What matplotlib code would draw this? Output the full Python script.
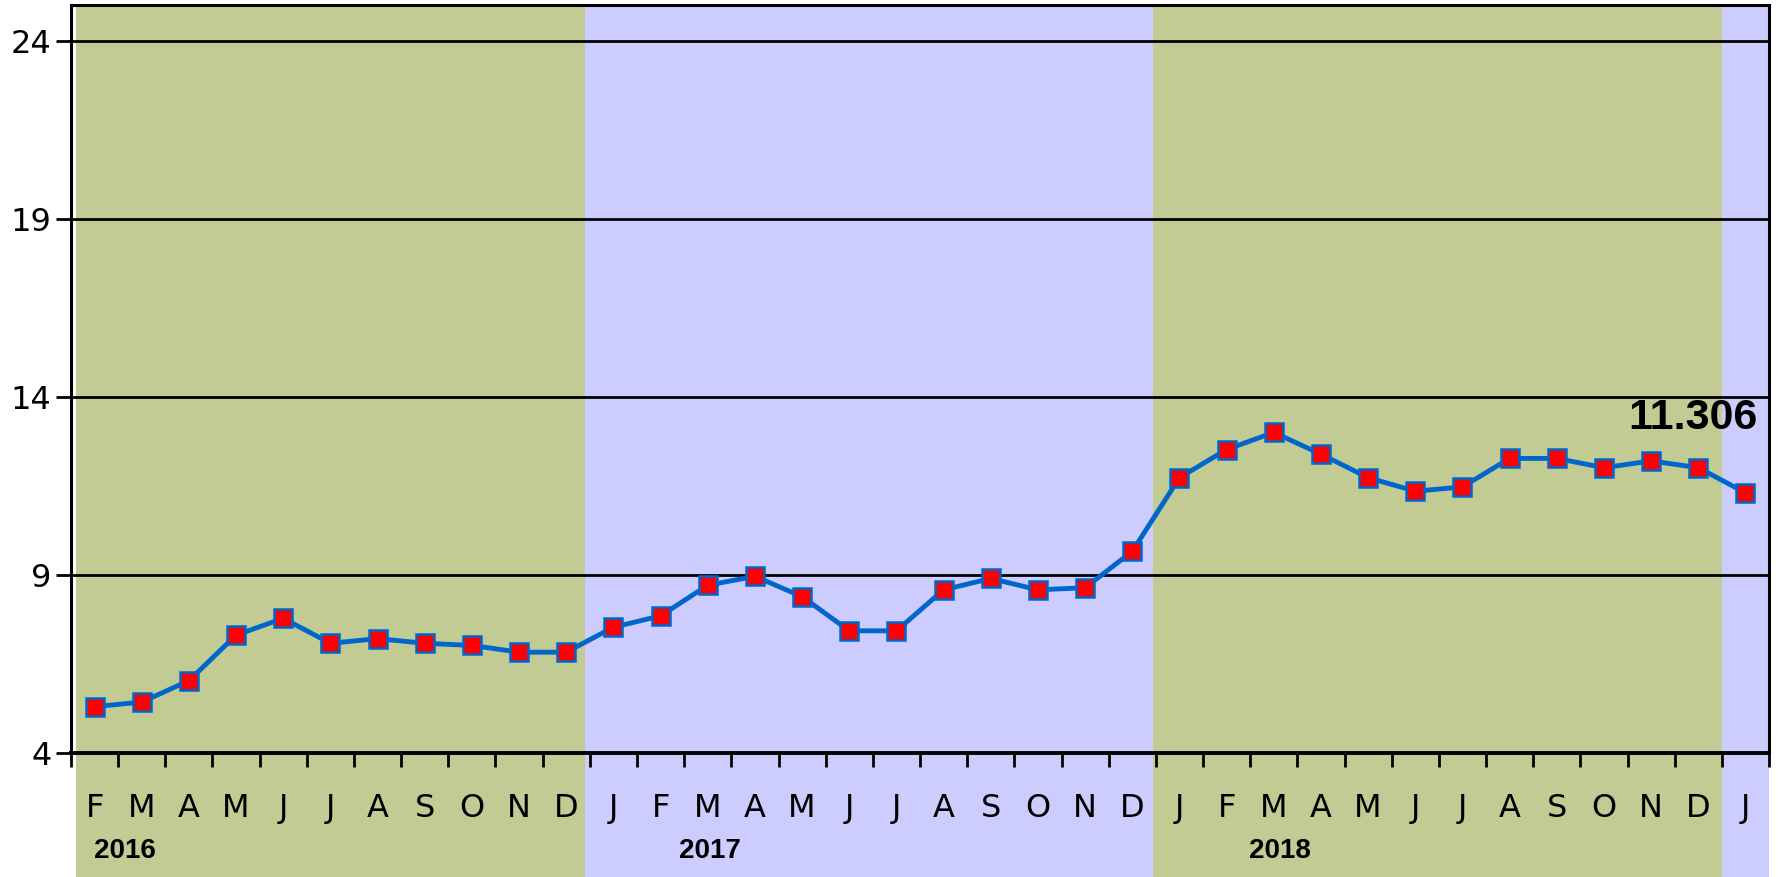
import matplotlib.pyplot as plt
from matplotlib.patches import Rectangle
from matplotlib.transforms import blended_transform_factory

# months Feb 2016 .. Jan 2019
months = ['F', 'M', 'A', 'M', 'J', 'J', 'A', 'S', 'O', 'N', 'D',
          'J', 'F', 'M', 'A', 'M', 'J', 'J', 'A', 'S', 'O', 'N', 'D',
          'J', 'F', 'M', 'A', 'M', 'J', 'J', 'A', 'S', 'O', 'N', 'D',
          'J']
values = [5.30, 5.43, 6.03, 7.31, 7.78, 7.08, 7.21, 7.08, 7.02, 6.83, 6.83,
          7.53, 7.85, 8.71, 8.96, 8.39, 7.43, 7.43, 8.58, 8.90, 8.58, 8.64, 9.66,
          11.73, 12.52, 13.00, 12.39, 11.73, 11.35, 11.47, 12.27, 12.27, 12.01, 12.20, 12.01,
          11.306]
years = ['2016', '2017', '2018']
year_pos = [0.64, 13.05, 25.13]
last_label = '11.306'

# background bands per year: (start, end, colour)
green = '#C2CB93'
lilac = '#CCCCFF'
bands = [(-0.4, 10.4, green), (10.4, 22.44, lilac), (22.44, 34.5, green), (34.5, 35.5, lilac)]

fig = plt.figure(figsize=(17.79, 8.77), dpi=100)
ax = fig.add_axes([0.0399, 0.1414, 0.9545, 0.8529])

x = list(range(len(values)))
trans = blended_transform_factory(ax.transData, ax.transAxes)
for x0, x1, c in bands:
    ax.add_patch(Rectangle((x0, -0.166), x1 - x0, 1.166, transform=trans,
                           facecolor=c, edgecolor='none', clip_on=False, zorder=0))

for yv in [9, 14, 19, 24]:
    ax.axhline(yv, color='black', lw=2, zorder=1)

ax.plot(x, values, color='#0066CC', lw=3.5, marker='s', markersize=13.5,
        markerfacecolor='#FF0000', markeredgecolor='#0066CC', markeredgewidth=1.8,
        zorder=3, clip_on=False)

ax.text(35.25, 13.4, last_label, ha='right', va='center', fontsize=31,
        fontweight='bold', family='Liberation Sans', zorder=4)

ax.set_xlim(-0.5, 35.5)
ax.set_ylim(4, 25)
ax.set_yticks([4, 9, 14, 19, 24])
ax.tick_params(axis='y', length=11, width=2, labelsize=23, pad=3)

ax.set_xticks([i - 0.5 for i in range(len(values) + 1)])
ax.set_xticklabels([])
ax.set_xticks(x, minor=True)
ax.set_xticklabels(months, minor=True)
ax.tick_params(axis='x', which='major', direction='out', length=10, width=2)
ax.tick_params(axis='x', which='minor', length=0, labelsize=23, pad=29)

for yr, xp in zip(years, year_pos):
    ax.text(xp, -0.131, yr, transform=trans, ha='center', va='center',
            fontsize=20, fontweight='bold', family='Liberation Sans')

ax.set_facecolor('none')
for s in ax.spines.values():
    s.set_linewidth(2.2)
    s.set_zorder(5)
ax.spines['bottom'].set_linewidth(2.8)

fig.savefig('out.png', dpi=100)
